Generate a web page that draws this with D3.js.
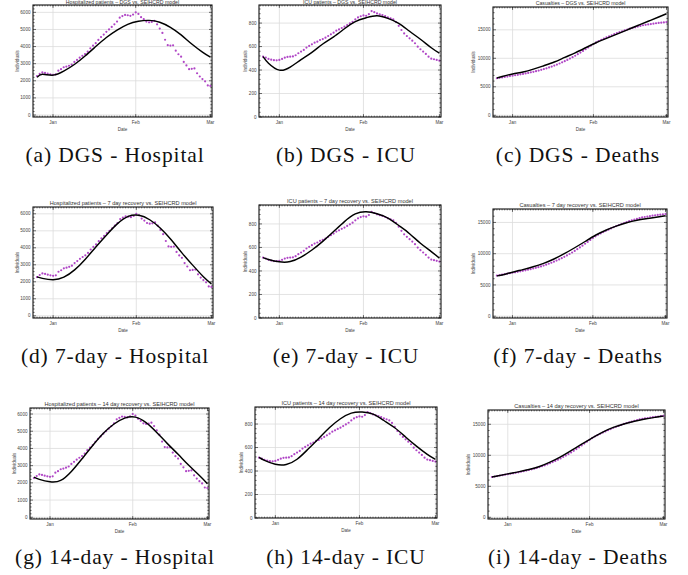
<!DOCTYPE html>
<html>
<head>
<meta charset="utf-8">
<script src="https://cdn.jsdelivr.net/npm/d3@7"></script>
<style>
  body { margin: 0; background: #fff; }
  svg { display: block; }
</style>
</head>
<body>
<script>
// SEIHCRD model vs DGS data, 3x3 grid of small date plots

// day 0 of the observed series
var firstDay = new Date(2020, 11, 26);

// DGS observations, one value per day (Dec 26 .. Mar 1)
var dgsHospital = [2280, 2400, 2490, 2460, 2420, 2380, 2350, 2380, 2590, 2680,
    2790, 2830, 2880, 2950, 3100, 3220, 3350, 3460, 3560, 3700,
    3900, 4050, 4200, 4390, 4560, 4700, 4860, 5000, 5150, 5300,
    5460, 5690, 5780, 5850, 5830, 5800, 5870, 6000, 5910, 5720,
    5600, 5460, 5420, 5440, 5500, 5300, 5050, 4800, 4400, 4080,
    4060, 4070, 3760, 3550, 3410, 3100, 2900, 2680, 2700, 2720,
    2440, 2250, 2100, 1970, 1730, 1700];
var dgsICU = [514, 506, 495, 488, 484, 483, 486, 495, 505, 512,
    514, 516, 526, 543, 557, 571, 591, 605, 619, 633,
    642, 656, 664, 676, 690, 704, 718, 735, 746, 758,
    769, 783, 797, 811, 831, 848, 858, 865, 862, 876,
    902, 893, 882, 874, 868, 859, 848, 840, 831, 809,
    777, 741, 712, 690, 670, 650, 628, 599, 577, 557,
    537, 514, 497, 492, 486, 480];
var dgsDeaths = [6500, 6575, 6650, 6725, 6800, 6875, 6950, 7025, 7100, 7180,
    7260, 7345, 7435, 7530, 7630, 7735, 7850, 7970, 8100, 8240,
    8390, 8550, 8720, 8900, 9090, 9290, 9500, 9720, 9950, 10190,
    10450, 10720, 11000, 11290, 11590, 11890, 12200, 12500, 12780, 13030,
    13250, 13460, 13660, 13850, 14040, 14230, 14420, 14580, 14740, 14900,
    15050, 15200, 15320, 15440, 15560, 15680, 15800, 15870, 15940, 16010,
    16080, 16150, 16200, 16250, 16300, 16350];

// model curves, sampled at these days
var modelDays = [0, 2, 6, 10, 14, 18, 22, 26, 30, 34, 38, 42, 46, 50, 54, 58, 62, 65];

var modelDgsHospital = [2200, 2380, 2330, 2560, 2950, 3450, 4000, 4530, 4960, 5300, 5480, 5530, 5420, 5120, 4680, 4150, 3680, 3380];
var modelDgsICU = [514, 458, 399, 425, 488, 550, 622, 683, 752, 813, 845, 862, 840, 798, 730, 662, 590, 543];
var modelDgsDeaths = [6550, 6800, 7250, 7600, 8100, 8700, 9350, 10150, 10950, 11850, 12730, 13490, 14240, 15000, 15750, 16500, 17250, 17820];

var model7Hospital = [2290, 2200, 2120, 2270, 2700, 3330, 4060, 4770, 5420, 5850, 5910, 5650, 5150, 4470, 3700, 2980, 2300, 1880];
var model7ICU = [514, 498, 478, 480, 518, 578, 652, 735, 820, 885, 904, 886, 850, 787, 717, 636, 565, 509];
var model7Deaths = [6450, 6600, 7040, 7450, 7900, 8450, 9150, 10000, 10950, 11950, 12950, 13750, 14400, 14950, 15350, 15620, 15880, 16080];

var model14Hospital = [2330, 2200, 2060, 2140, 2660, 3400, 4170, 4880, 5420, 5760, 5820, 5500, 4930, 4280, 3660, 3020, 2430, 1950];
var model14ICU = [516, 490, 457, 455, 500, 585, 677, 770, 845, 893, 902, 884, 830, 768, 690, 612, 542, 499];
var model14Deaths = [6500, 6650, 7000, 7330, 7720, 8200, 8900, 9750, 10750, 11800, 12800, 13750, 14500, 15050, 15480, 15850, 16130, 16330];

// ticks
var hospitalTicks = [0, 1000, 2000, 3000, 4000, 5000, 6000];
var icuTicks = [0, 200, 400, 600, 800];
var deathTicks = [0, 5000, 10000, 15000];
var monthTicks = [new Date(2021, 0, 1), new Date(2021, 1, 1), new Date(2021, 2, 1)];
var monthLabels = ["Jan", "Feb", "Mar"];

var titles = [
    "Hospitalized patients – DGS vs. SEIHCRD model", "ICU patients – DGS vs. SEIHCRD model", "Casualties – DGS vs. SEIHCRD model",
    "Hospitalized patients – 7 day recovery vs. SEIHCRD model", "ICU patients – 7 day recovery vs. SEIHCRD model", "Casualties – 7 day recovery vs. SEIHCRD model",
    "Hospitalized patients – 14 day recovery vs. SEIHCRD model", "ICU patients – 14 day recovery vs. SEIHCRD model", "Casualties – 14 day recovery vs. SEIHCRD model"
];
var captions = [
    "(a) DGS - Hospital", "(b) DGS - ICU", "(c) DGS - Deaths",
    "(d) 7-day - Hospital", "(e) 7-day - ICU", "(f) 7-day - Deaths",
    "(g) 14-day - Hospital", "(h) 14-day - ICU", "(i) 14-day - Deaths"
];

// layout of each panel (frame box in pixels) and its y range
var panels = [
    { l: 33, r: 212, t: 5, b: 117, y0: -117, y1: 6430, obs: dgsHospital, model: modelDgsHospital, ticks: hospitalTicks, labX: 16 },
    { l: 259, r: 441, t: 5, b: 117, y0: 0, y1: 954, obs: dgsICU, model: modelDgsICU, ticks: icuTicks, labX: 14 },
    { l: 493, r: 668, t: 7, b: 117, y0: -300, y1: 19000, obs: dgsDeaths, model: modelDgsDeaths, ticks: deathTicks, labX: 20 },
    { l: 33, r: 213, t: 207, b: 318, y0: -130, y1: 6400, obs: dgsHospital, model: model7Hospital, ticks: hospitalTicks, labX: 16 },
    { l: 259, r: 441, t: 205, b: 318, y0: 0, y1: 961, obs: dgsICU, model: model7ICU, ticks: icuTicks, labX: 14 },
    { l: 493, r: 667, t: 209, b: 318, y0: -290, y1: 17150, obs: dgsDeaths, model: model7Deaths, ticks: deathTicks, labX: 20 },
    { l: 30, r: 209, t: 408, b: 519, y0: -100, y1: 6350, obs: dgsHospital, model: model14Hospital, ticks: hospitalTicks, labX: 16 },
    { l: 255, r: 437, t: 407, b: 518, y0: 0, y1: 945, obs: dgsICU, model: model14ICU, ticks: icuTicks, labX: 14 },
    { l: 488, r: 665, t: 410, b: 519, y0: -270, y1: 17300, obs: dgsDeaths, model: model14Deaths, ticks: deathTicks, labX: 20 }
];

var captionX = [115, 346, 578];
var captionY = [162, 363, 564];

var purple = "#b046c6";
var xDomain = [new Date(2020, 11, 24, 12), new Date(2021, 2, 1, 14)];
var sans = "Liberation Sans, Arial, sans-serif";

var svg = d3.select("body")
    .append("svg")
    .attr("width", 688)
    .attr("height", 575);

function dayDate(d) {
    return d3.timeDay.offset(firstDay, d);
}

panels.forEach(function (p, i) {
    var x = d3.scaleTime().domain(xDomain).range([p.l, p.r]);
    var y = d3.scaleLinear().domain([p.y0, p.y1]).range([p.b, p.t]);
    var g = svg.append("g");

    // clip to the frame
    var clipId = "clip" + i;
    g.append("clipPath").attr("id", clipId)
        .append("rect")
        .attr("x", p.l).attr("y", p.t)
        .attr("width", p.r - p.l).attr("height", p.b - p.t);

    // grid lines
    g.selectAll(".hgrid")
        .data(p.ticks.filter(function (v) { return y(v) > p.t + 1 && y(v) < p.b - 1; }))
        .enter().append("line")
        .attr("x1", p.l).attr("x2", p.r)
        .attr("y1", function (v) { return y(v); })
        .attr("y2", function (v) { return y(v); })
        .attr("stroke", "#dcdcdc").attr("stroke-width", 0.8);

    g.selectAll(".vgrid")
        .data(monthTicks)
        .enter().append("line")
        .attr("x1", function (d) { return x(d); })
        .attr("x2", function (d) { return x(d); })
        .attr("y1", p.t).attr("y2", p.b)
        .attr("stroke", "#dcdcdc").attr("stroke-width", 0.8);

    // observed points
    var plot = g.append("g").attr("clip-path", "url(#" + clipId + ")");
    plot.selectAll("circle")
        .data(p.obs)
        .enter().append("circle")
        .attr("cx", function (v, k) { return x(dayDate(k)); })
        .attr("cy", function (v) { return y(v); })
        .attr("r", 1.1)
        .attr("fill", purple);

    // model curve
    var line = d3.line()
        .x(function (v, k) { return x(dayDate(modelDays[k])); })
        .y(function (v) { return y(v); })
        .curve(d3.curveNatural);
    plot.append("path")
        .attr("d", line(p.model))
        .attr("fill", "none")
        .attr("stroke", "#000")
        .attr("stroke-width", 1.45);

    // frame
    g.append("rect")
        .attr("x", p.l).attr("y", p.t)
        .attr("width", p.r - p.l).attr("height", p.b - p.t)
        .attr("fill", "none")
        .attr("stroke", "#111").attr("stroke-width", 1.1);

    // frame ticks, major and minor, on all four sides
    var step = p.ticks[1] - p.ticks[0];
    var minorStep = step / 5;
    var yMinor = d3.range(Math.ceil(p.y0 / minorStep) * minorStep, p.y1, minorStep);
    var yTickLines = yMinor.map(function (v) {
        return { v: v, len: p.ticks.indexOf(v) >= 0 ? 3 : 1.6 };
    });
    g.selectAll(".ytl")
        .data(yTickLines)
        .enter().append("path")
        .attr("d", function (d) {
            var yy = y(d.v);
            return "M" + p.l + "," + yy + "h" + d.len + "M" + p.r + "," + yy + "h" + (-d.len);
        })
        .attr("stroke", "#111").attr("stroke-width", 0.6);

    var xMinor = d3.timeDay.range(xDomain[0], xDomain[1], 1);
    var xTickLines = xMinor.map(function (d) { return { d: d, len: 1.4 }; })
        .concat(monthTicks.map(function (d) { return { d: d, len: 3 }; }));
    g.selectAll(".xtl")
        .data(xTickLines)
        .enter().append("path")
        .attr("d", function (d) {
            var xx = x(d.d);
            return "M" + xx + "," + p.b + "v" + (-d.len) + "M" + xx + "," + p.t + "v" + d.len;
        })
        .attr("stroke", "#111").attr("stroke-width", 0.55);

    // tick labels
    g.selectAll(".ylab")
        .data(p.ticks)
        .enter().append("text")
        .attr("x", p.l - 2.5)
        .attr("y", function (v) { return y(v) + 1.6; })
        .attr("text-anchor", "end")
        .attr("font-family", sans)
        .attr("font-size", 4.6)
        .attr("fill", "#444")
        .text(function (v) { return d3.format("d")(v); });

    g.selectAll(".xlab")
        .data(monthTicks)
        .enter().append("text")
        .attr("x", function (d) { return x(d); })
        .attr("y", p.b + 6.5)
        .attr("text-anchor", "middle")
        .attr("font-family", sans)
        .attr("font-size", 4.6)
        .attr("fill", "#444")
        .text(function (d, k) { return monthLabels[k]; });

    // axis labels
    g.append("text")
        .attr("x", (p.l + p.r) / 2)
        .attr("y", p.b + 13.5)
        .attr("text-anchor", "middle")
        .attr("font-family", sans)
        .attr("font-size", 4.6)
        .attr("fill", "#444")
        .text("Date");

    g.append("text")
        .attr("transform", "translate(" + (p.l - p.labX + 1.5) + "," + ((p.t + p.b) / 2) + ") rotate(-90)")
        .attr("text-anchor", "middle")
        .attr("font-family", sans)
        .attr("font-size", 4.6)
        .attr("fill", "#444")
        .text("Individuals");

    // title, kept inside the picture for the top row
    g.append("text")
        .attr("x", (p.l + p.r) / 2)
        .attr("y", Math.max(p.t - 1.6, 4.4))
        .attr("text-anchor", "middle")
        .attr("font-family", sans)
        .attr("font-size", p.t < 20 ? 5.2 : 5.6)
        .attr("fill", "#333")
        .text(titles[i]);

    // caption under the subfigure
    svg.append("text")
        .attr("x", captionX[i % 3])
        .attr("y", captionY[Math.floor(i / 3)])
        .attr("text-anchor", "middle")
        .attr("font-family", "Liberation Serif, Times New Roman, serif")
        .attr("font-size", 21.5)
        .attr("letter-spacing", 0.9)
        .attr("fill", "#111")
        .text(captions[i]);
});
</script>
</body>
</html>
